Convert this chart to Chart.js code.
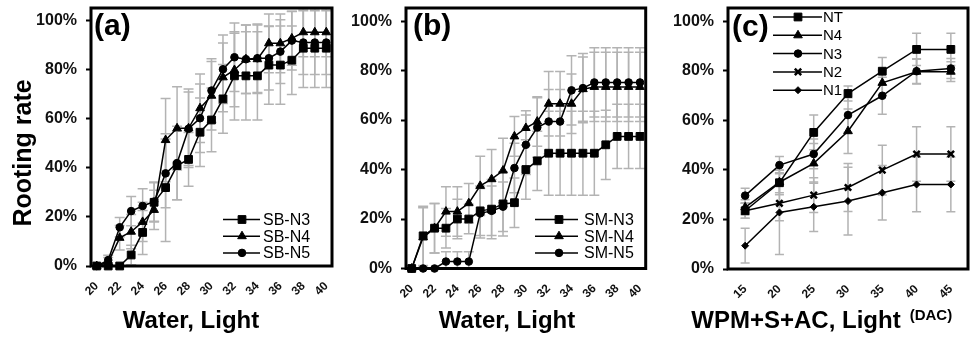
<!DOCTYPE html>
<html>
<head>
<meta charset="utf-8">
<script src="https://cdn.jsdelivr.net/npm/chart.js@4.4.0/dist/chart.umd.min.js"></script>
<style>
    html, body { margin: 0; padding: 0; background: #fff; }
    #wrap { position: relative; width: 976px; height: 338px; overflow: hidden; }
    .panel { position: absolute; top: 0; height: 338px; }
</style>
</head>
<body>
<div id="wrap">
    <div class="panel" style="left:0;width:340px"><canvas id="chartA"></canvas></div>
    <div class="panel" style="left:340px;width:320px"><canvas id="chartB"></canvas></div>
    <div class="panel" style="left:660px;width:316px"><canvas id="chartC"></canvas></div>
</div>
<script>
var FONT = "'Liberation Sans', Arial, sans-serif";

// x categories
var daysAB = [20, 21, 22, 23, 24, 25, 26, 27, 28, 29, 30, 31, 32, 33, 34, 35, 36, 37, 38, 39, 40];
var daysC = [15, 20, 25, 30, 35, 40, 45];

// (a) Water, Light - SB
var sbN3 = [0, 0, 0, 4.5, 13.7, 26, 32, 41, 43.5, 54.6, 59.6, 68.2, 77.6, 77.6, 77.6, 82, 82, 84, 88.9, 88.9, 88.9];
var sbN4 = [0, 1.5, 11.5, 14, 18, 22.9, 51.4, 56.2, 56.2, 64.4, 69.5, 77, 80, 84.4, 84.4, 90.9, 90.9, 92.9, 95.4, 95.4, 95.4];
var sbN5 = [0, 2.4, 15.8, 22.4, 24.5, 26.3, 37.8, 42, 56, 60.3, 71.6, 80.3, 85.2, 84.4, 84.8, 84.8, 87.5, 92, 91.2, 91.2, 91.2];
var sbN3Err = [0, 0, 0, 4, 9, 8, 22, 14, 11, 14, 13, 14, 18, 18, 18, 16, 16, 14, 16, 16, 16];
var sbN4Err = [0, 2, 5, 7, 8, 8, 17, 17, 16, 14, 14, 14, 15, 14, 14, 12, 12, 11, 10, 10, 10];
var sbN5Err = [0, 2, 4, 6, 7, 8, 14, 15, 15, 14, 13, 14, 14, 14, 14, 13, 13, 12, 13, 13, 13];

// (b) Water, Light - SM
var smN3 = [0, 13.2, 16.3, 16.3, 20, 20, 23.3, 24, 26.1, 26.6, 40, 43.5, 46.6, 46.6, 46.6, 46.6, 46.6, 50, 53.4, 53.4, 53.4];
var smN4 = [0, 12.6, 16.3, 23, 23, 26.4, 33.4, 36.1, 39.6, 53.4, 56.8, 59.4, 66.6, 66.6, 66.6, 72.5, 73.4, 73.4, 73.4, 73.4, 73.4];
var smN5 = [0, 0, 0, 2.8, 2.8, 2.8, 22.3, 23.3, 25, 40.6, 50, 57, 59.4, 59.4, 72, 72.9, 75.2, 75.2, 75.2, 75.2, 75.2];
var smN3Err = [0, 12, 10, 8, 8, 6, 10, 12, 13, 10, 12, 12, 17, 17, 17, 17, 17, 14, 13, 13, 13];
var smN4Err = [0, 12, 10, 10, 10, 8, 12, 12, 13, 8, 7, 10, 13, 13, 12, 13, 14, 14, 14, 14, 14];
var smN5Err = [0, 0, 0, 4, 4, 4, 10, 10, 10, 10, 12, 12, 13, 13, 14, 14, 14, 14, 14, 14, 14];

// (c) WPM+S+AC, Light
var cNT = [23.5, 34.8, 55.1, 70.8, 79.8, 88.6, 88.6];
var cN4 = [24.9, 35, 42.6, 55.6, 75.1, 79.6, 79.6];
var cN3 = [29.6, 41.9, 46.4, 62.1, 69.9, 79.8, 80.9];
var cN2 = [23.5, 26.5, 29.8, 32.9, 39.9, 46.4, 46.4];
var cN1 = [9.4, 22.8, 25.1, 27.4, 30.8, 34.1, 34.1];
var cNTErr = [3, 4, 7, 3, 5.5, 6.5, 6.5];
var cN4Err = [3, 5, 8, 9, 5, 5, 4];
var cN3Err = [3, 3.5, 6, 7, 7.5, 5, 4];
var cN2Err = [3, 7, 7, 9.7, 10, 11, 11];
var cN1Err = [7, 17, 10, 13.7, 11, 11, 11];

var yMax = 105.3;

function series(label, data, err, style, radius, bw) {
    return {
        label: label,
        data: data,
        errors: err,
        borderColor: '#000',
        backgroundColor: '#000',
        borderWidth: 1.5,
        pointStyle: style,
        pointRadius: radius,
        pointHoverRadius: radius,
        pointBorderWidth: bw || 1,
        pointBorderColor: '#000',
        pointBackgroundColor: '#000',
        tension: 0,
        clip: false
    };
}

// grey error bars, drawn under the lines
var errorBars = {
    id: 'errorBars',
    beforeDatasetsDraw: function (chart) {
        var ctx = chart.ctx, area = chart.chartArea;
        var xs = chart.scales.x, ys = chart.scales.y;
        var cap = chart.options.plugins.panelDeco.cap;
        ctx.save();
        ctx.beginPath();
        ctx.rect(area.left, area.top, area.right - area.left, area.bottom - area.top);
        ctx.clip();
        ctx.strokeStyle = '#b3b3b3';
        ctx.lineWidth = 1.5;
        chart.data.datasets.forEach(function (ds) {
            ds.data.forEach(function (v, i) {
                var e = ds.errors[i];
                if (!e) return;
                var x = xs.getPixelForValue(i);
                var y1 = ys.getPixelForValue(v + e);
                var y2 = ys.getPixelForValue(Math.max(v - e, 0));
                ctx.beginPath();
                ctx.moveTo(x, y1); ctx.lineTo(x, y2);
                ctx.moveTo(x - cap, y1); ctx.lineTo(x + cap, y1);
                ctx.moveTo(x - cap, y2); ctx.lineTo(x + cap, y2);
                ctx.stroke();
            });
        });
        ctx.restore();
    }
};

// frame, panel letter, axis titles, legend
var panelDeco = {
    id: 'panelDeco',
    afterDraw: function (chart, args, o) {
        var ctx = chart.ctx, a = chart.chartArea;
        ctx.save();
        ctx.strokeStyle = '#000';
        ctx.lineWidth = 3;
        ctx.strokeRect(a.left, a.top, a.right - a.left, a.bottom - a.top);

        ctx.fillStyle = '#000';
        ctx.textBaseline = 'middle';
        ctx.textAlign = 'left';
        ctx.font = 'bold 30px ' + FONT;
        ctx.fillText(o.letter, o.letterX, o.letterY);

        ctx.textAlign = 'center';
        ctx.font = 'bold 24px ' + FONT;
        ctx.fillText(o.xTitle, o.xTitleX, 321);
        if (o.xSup) {
            var w = ctx.measureText(o.xTitle).width;
            ctx.textAlign = 'left';
            ctx.font = 'bold 15px ' + FONT;
            ctx.fillText(o.xSup, o.xTitleX + w / 2 + 9, 316);
        }
        if (o.yTitle) {
            ctx.save();
            ctx.translate(24, 153);
            ctx.rotate(-Math.PI / 2);
            ctx.textAlign = 'center';
            ctx.font = 'bold 25px ' + FONT;
            ctx.fillText(o.yTitle, 0, 0);
            ctx.restore();
        }

        // legend
        var lg = o.legend;
        ctx.font = lg.size + 'px ' + FONT;
        ctx.textAlign = 'left';
        chart.data.datasets.forEach(function (ds, i) {
            var y = lg.y + i * lg.gap;
            ctx.strokeStyle = '#000';
            ctx.lineWidth = 1.5;
            ctx.beginPath();
            ctx.moveTo(lg.x0, y); ctx.lineTo(lg.x1, y);
            ctx.stroke();
            ctx.fillStyle = '#000';
            ctx.lineWidth = ds.pointBorderWidth;
            Chart.helpers.drawPoint(ctx, {
                pointStyle: ds.pointStyle, radius: ds.pointRadius, rotation: 0, borderWidth: ds.pointBorderWidth
            }, lg.xm, y);
            ctx.fillStyle = '#000';
            ctx.fillText(ds.label, lg.xt, y + 1);
        });
        ctx.restore();
    }
};

function makeChart(id, labels, datasets, cfg) {
    return new Chart(document.getElementById(id), {
        type: 'line',
        data: { labels: labels, datasets: datasets },
        options: {
            responsive: true,
            maintainAspectRatio: false,
            animation: false,
            layout: { padding: { top: 8, right: cfg.padRight, left: 0, bottom: 0 } },
            plugins: {
                legend: { display: false },
                tooltip: { enabled: false },
                panelDeco: cfg
            },
            scales: {
                x: {
                    type: 'category',
                    offset: true,
                    grid: { display: false },
                    border: { display: false },
                    ticks: {
                        autoSkip: false,
                        minRotation: 45,
                        maxRotation: 45,
                        padding: 5,
                        color: '#111',
                        font: { family: FONT, size: 12, weight: 'bold' },
                        callback: function (v, i) {
                            return i % cfg.every === 0 ? this.getLabelForValue(v) : null;
                        }
                    },
                    afterFit: function (s) {
                        s.height = cfg.xHeight;
                        s.paddingLeft = 0; s.paddingRight = 0;
                    }
                },
                y: {
                    min: 0,
                    max: yMax,
                    grid: { drawOnChartArea: false, drawTicks: true, tickLength: 5, tickWidth: 2, tickColor: '#000' },
                    border: { display: false },
                    ticks: {
                        stepSize: 20,
                        includeBounds: false,
                        padding: 9,
                        color: '#111',
                        font: { family: FONT, size: 16, weight: 'bold' },
                        callback: function (v) { return v + '%'; }
                    },
                    afterFit: function (s) {
                        s.width = cfg.yWidth;
                        s.paddingTop = 0; s.paddingBottom = 0;
                    }
                }
            }
        },
        plugins: [errorBars, panelDeco]
    });
}

makeChart('chartA', daysAB, [
    series('SB-N3', sbN3, sbN3Err, 'rect', 5.5),
    series('SB-N4', sbN4, sbN4Err, 'triangle', 5),
    series('SB-N5', sbN5, sbN5Err, 'circle', 3.8)
], {
    every: 2, xHeight: 72, yWidth: 91, padRight: 8, cap: 5,
    letter: '(a)', letterX: 94, letterY: 27,
    xTitle: 'Water, Light', xTitleX: 191, yTitle: 'Rooting rate',
    legend: { x0: 223, x1: 260, xm: 242, xt: 263, y: 219.5, gap: 16.7, size: 16 }
});

makeChart('chartB', daysAB, [
    series('SM-N3', smN3, smN3Err, 'rect', 5.5),
    series('SM-N4', smN4, smN4Err, 'triangle', 5),
    series('SM-N5', smN5, smN5Err, 'circle', 3.8)
], {
    every: 2, xHeight: 69.5, yWidth: 66, padRight: 14.3, cap: 5,
    letter: '(b)', letterX: 73, letterY: 27,
    xTitle: 'Water, Light', xTitleX: 167,
    legend: { x0: 195, x1: 238, xm: 219, xt: 244, y: 219.5, gap: 16.7, size: 16 }
});

makeChart('chartC', daysC, [
    series('NT', cNT, cNTErr, 'rect', 5.5),
    series('N4', cN4, cN4Err, 'triangle', 5),
    series('N3', cN3, cN3Err, 'circle', 3.8),
    series('N2', cN2, cN2Err, 'crossRot', 4.5, 2.5),
    series('N1', cN1, cN1Err, 'rectRot', 3.5)
], {
    every: 1, xHeight: 69, yWidth: 68, padRight: 8, cap: 4.5,
    letter: '(c)', letterX: 72, letterY: 28,
    xTitle: 'WPM+S+AC, Light', xTitleX: 136, xSup: '(DAC)',
    legend: { x0: 113, x1: 162, xm: 138, xt: 163, y: 17, gap: 18.3, size: 15 }
});
</script>
</body>
</html>
